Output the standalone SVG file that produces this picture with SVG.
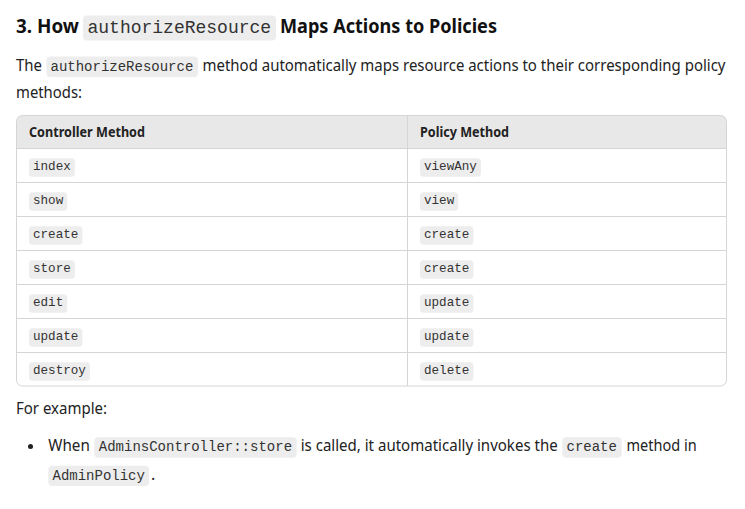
<svg xmlns="http://www.w3.org/2000/svg" width="745" height="509" viewBox="0 0 745 509">
<style>
.t{font-family:"Noto Sans","Open Sans",sans-serif;font-size:16px;fill:#222}
.h{font-family:"Noto Sans","Open Sans",sans-serif;font-size:20px;font-weight:bold;fill:#111}
.th{font-family:"Noto Sans","Open Sans",sans-serif;font-size:14px;font-weight:bold;fill:#222}
.m{font-family:"Liberation Mono","DejaVu Sans Mono",monospace;fill:#333}
.m18{font-size:18px}
.m14{font-size:14px}
.m13{font-size:12.6px}
.chip{fill:#ededed}
.grid{stroke:#d5d5d5;stroke-width:1;fill:none}
</style>
<defs>
<clipPath id="tblclip"><rect x="16.5" y="115.5" width="710" height="270.5" rx="6"/></clipPath>
</defs>
<rect width="745" height="509" fill="#fff"/>
<g id="heading">
<text class="h" x="16" y="33" textLength="63" lengthAdjust="spacingAndGlyphs">3. How</text>
<rect class="chip" x="83" y="15.5" width="193" height="25" rx="4"/>
<text class="m m18" x="87.5" y="33">authorizeResource</text>
<text class="h" x="280" y="33" textLength="217" lengthAdjust="spacingAndGlyphs">Maps Actions to Policies</text>
</g>
<g id="intro">
<text class="t" x="16" y="71" textLength="26" lengthAdjust="spacingAndGlyphs">The</text>
<rect class="chip" x="46.5" y="56.5" width="151.5" height="20.5" rx="4"/>
<text class="m m14" x="50.5" y="71">authorizeResource</text>
<text class="t" x="202.5" y="71" textLength="523" lengthAdjust="spacingAndGlyphs">method automatically maps resource actions to their corresponding policy</text>
<text class="t" x="16" y="98" textLength="66" lengthAdjust="spacingAndGlyphs">methods:</text>
</g>
<g id="table">
<rect x="16.5" y="115.5" width="710" height="33" fill="#e8e8e8" clip-path="url(#tblclip)"/>
<rect class="grid" x="16.5" y="115.5" width="710" height="270.5" rx="6"/>
<path class="grid" d="M16.5 148.5H726.5M16.5 182.5H726.5M16.5 216.5H726.5M16.5 250.5H726.5M16.5 284.5H726.5M16.5 318.5H726.5M16.5 352.5H726.5M407.5 115.5V386"/>
<text class="th" x="29" y="137" textLength="116" lengthAdjust="spacingAndGlyphs">Controller Method</text>
<text class="th" x="420" y="137" textLength="89" lengthAdjust="spacingAndGlyphs">Policy Method</text>
<g id="row1">
<rect class="chip" x="29" y="158.3" width="45.8" height="18.4" rx="3.5"/><text class="m m13" x="33" y="170">index</text>
<rect class="chip" x="420" y="158.3" width="60.9" height="18.4" rx="3.5"/><text class="m m13" x="424" y="170">viewAny</text>
</g>
<g id="row2">
<rect class="chip" x="29" y="192.3" width="38.2" height="18.4" rx="3.5"/><text class="m m13" x="33" y="204">show</text>
<rect class="chip" x="420" y="192.3" width="38.2" height="18.4" rx="3.5"/><text class="m m13" x="424" y="204">view</text>
</g>
<g id="row3">
<rect class="chip" x="29" y="226.3" width="53.4" height="18.4" rx="3.5"/><text class="m m13" x="33" y="238">create</text>
<rect class="chip" x="420" y="226.3" width="53.4" height="18.4" rx="3.5"/><text class="m m13" x="424" y="238">create</text>
</g>
<g id="row4">
<rect class="chip" x="29" y="260.3" width="45.8" height="18.4" rx="3.5"/><text class="m m13" x="33" y="272">store</text>
<rect class="chip" x="420" y="260.3" width="53.4" height="18.4" rx="3.5"/><text class="m m13" x="424" y="272">create</text>
</g>
<g id="row5">
<rect class="chip" x="29" y="294.3" width="38.2" height="18.4" rx="3.5"/><text class="m m13" x="33" y="306">edit</text>
<rect class="chip" x="420" y="294.3" width="53.4" height="18.4" rx="3.5"/><text class="m m13" x="424" y="306">update</text>
</g>
<g id="row6">
<rect class="chip" x="29" y="328.3" width="53.4" height="18.4" rx="3.5"/><text class="m m13" x="33" y="340">update</text>
<rect class="chip" x="420" y="328.3" width="53.4" height="18.4" rx="3.5"/><text class="m m13" x="424" y="340">update</text>
</g>
<g id="row7">
<rect class="chip" x="29" y="362.3" width="60.9" height="18.4" rx="3.5"/><text class="m m13" x="33" y="374">destroy</text>
<rect class="chip" x="420" y="362.3" width="53.4" height="18.4" rx="3.5"/><text class="m m13" x="424" y="374">delete</text>
</g>
</g>
<g id="example">
<text class="t" x="16" y="414" textLength="91" lengthAdjust="spacingAndGlyphs">For example:</text>
<circle cx="30.5" cy="446.5" r="2.5" fill="#222"/>
<text class="t" x="48.3" y="451" textLength="41.5" lengthAdjust="spacingAndGlyphs">When</text>
<rect class="chip" x="94.3" y="437.3" width="202.4" height="20.4" rx="4"/>
<text class="m m14" x="98.8" y="451">AdminsController::store</text>
<text class="t" x="300.7" y="451" textLength="257" lengthAdjust="spacingAndGlyphs">is called, it automatically invokes the</text>
<rect class="chip" x="562.3" y="437.3" width="59.4" height="20.4" rx="4"/>
<text class="m m14" x="566.5" y="451">create</text>
<text class="t" x="626.5" y="451" textLength="70.2" lengthAdjust="spacingAndGlyphs">method in</text>
<rect class="chip" x="48.3" y="465.7" width="100.7" height="20.3" rx="4"/>
<text class="m m14" x="52.5" y="480">AdminPolicy</text>
<text class="t" x="151" y="480">.</text>
</g>
</svg>
